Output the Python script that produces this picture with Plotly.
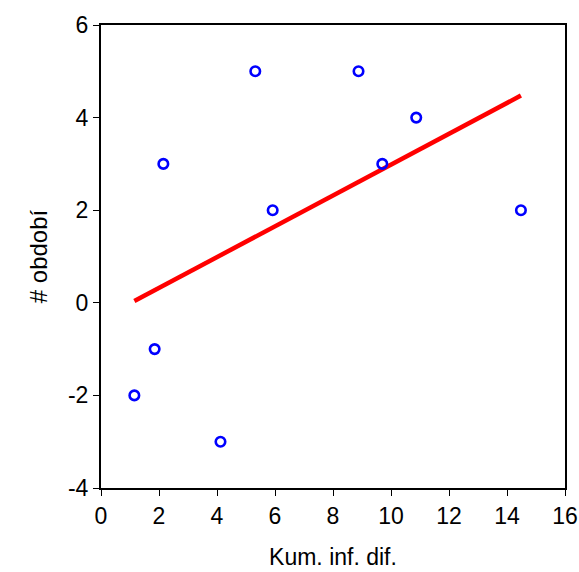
import numpy as np
import plotly.graph_objects as go

x_vals = [1.15, 1.85, 2.15, 4.12, 5.32, 5.92, 8.88, 9.70, 10.87, 14.48]
y_vals = [-2, -1, 3, -3, 5, 2, 5, 3, 4, 2]
x_ticks = [0, 2, 4, 6, 8, 10, 12, 14, 16]
y_ticks = [-4, -2, 0, 2, 4, 6]
y_tick_text = ["-4", "-2", "0", "2", "4", "6"]

slope, intercept = np.polyfit(x_vals, y_vals, 1)
fx = [min(x_vals), max(x_vals)]
fy = [slope * v + intercept for v in fx]

fig = go.Figure()
fig.add_trace(go.Scatter(x=fx, y=fy, mode="lines",
                         line=dict(color="#ff0000", width=4.5), showlegend=False))
fig.add_trace(go.Scatter(x=x_vals, y=y_vals, mode="markers",
                         marker=dict(symbol="circle-open", size=9.5, color="#0000ff",
                                     line=dict(width=2.6, color="#0000ff")),
                         showlegend=False))

font = "Liberation Sans, Arial, sans-serif"
fig.update_layout(
    width=579, height=572,
    margin=dict(l=101, r=14, t=25, b=84),
    paper_bgcolor="white", plot_bgcolor="white",
    font=dict(family=font, color="black"),
    xaxis=dict(range=[0, 16], tickvals=x_ticks, showgrid=False, zeroline=False,
               showline=True, linecolor="black", linewidth=2, mirror=True,
               ticks="outside", ticklen=6, tickwidth=1.2, tickcolor="black",
               tickfont=dict(size=23), automargin=False,
               title=dict(text="Kum. inf. dif.", font=dict(size=23), standoff=21)),
    yaxis=dict(range=[-4, 6], tickvals=y_ticks, ticktext=y_tick_text,
               showgrid=False, zeroline=False,
               showline=True, linecolor="black", linewidth=2, mirror=True,
               ticks="outside", ticklen=6, tickwidth=1.2, tickcolor="black",
               tickfont=dict(size=23), automargin=False,
               title=dict(text="# období", font=dict(size=24), standoff=14)),
)
fig.write_html("out.html")
